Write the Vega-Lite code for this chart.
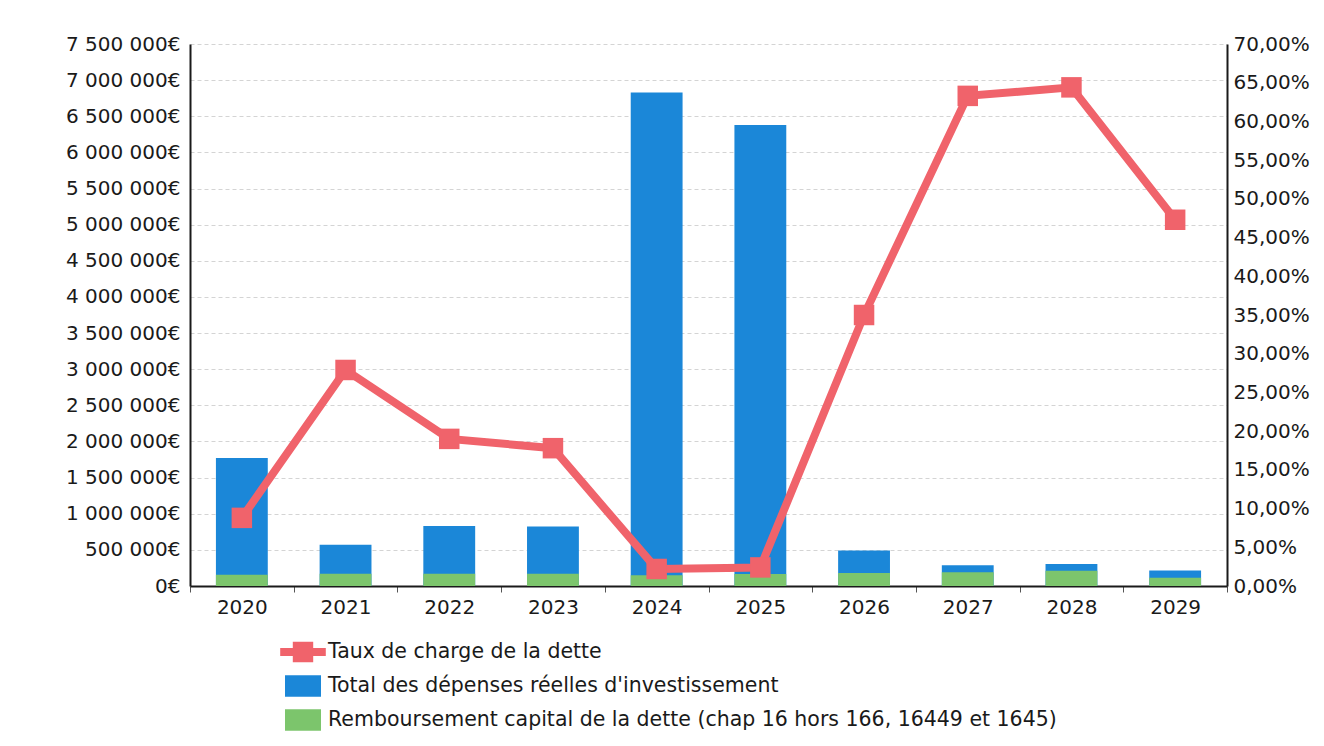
{
  "$schema": "https://vega.github.io/schema/vega-lite/v6.json",
  "autosize": "none",
  "width": 1037,
  "height": 542,
  "padding": {"left": 190, "top": 44, "right": 97, "bottom": 160},
  "background": "white",
  "config": {
    "locale": {"number": {"decimal": ",", "thousands": " ", "grouping": [3], "currency": ["", "€"]}},
    "font": "DejaVu Sans",
    "view": {"stroke": null}
  },
  "data": {
    "values": [
      {"annee": "2020", "total": 1770000, "remb": 155000, "taux": 0.088},
      {"annee": "2021", "total": 570000, "remb": 168000, "taux": 0.279},
      {"annee": "2022", "total": 830000, "remb": 168000, "taux": 0.190},
      {"annee": "2023", "total": 825000, "remb": 168000, "taux": 0.178},
      {"annee": "2024", "total": 6830000, "remb": 150000, "taux": 0.022},
      {"annee": "2025", "total": 6380000, "remb": 165000, "taux": 0.024},
      {"annee": "2026", "total": 490000, "remb": 180000, "taux": 0.350},
      {"annee": "2027", "total": 286000, "remb": 190000, "taux": 0.633},
      {"annee": "2028", "total": 305000, "remb": 210000, "taux": 0.644},
      {"annee": "2029", "total": 214000, "remb": 115000, "taux": 0.473}
    ]
  },
  "encoding": {
    "x": {
      "field": "annee",
      "type": "ordinal",
      "scale": {"paddingInner": 0, "paddingOuter": 0},
      "axis": {
        "title": null,
        "labelAngle": 0,
        "tickBand": "extent",
        "tickSize": 6,
        "tickColor": "#555555",
        "domainColor": "#1a1a1a",
        "domainWidth": 2,
        "labelFontSize": 20,
        "labelColor": "#1a1a1a",
        "labelPadding": 5,
        "grid": false
      }
    }
  },
  "layer": [
    {
      "layer": [
        {
          "mark": {"type": "bar", "width": {"band": 0.5}},
          "encoding": {
            "y": {
              "field": "total",
              "type": "quantitative",
              "scale": {"domain": [0, 7500000], "nice": false},
              "axis": {
                "title": null,
                "values": [0, 500000, 1000000, 1500000, 2000000, 2500000, 3000000, 3500000, 4000000, 4500000, 5000000, 5500000, 6000000, 6500000, 7000000, 7500000],
                "format": "$,.0f",
                "labelOverlap": false,
                "ticks": false,
                "labelPadding": 10,
                "labelFontSize": 20,
                "labelColor": "#1a1a1a",
                "domainColor": "#1a1a1a",
                "domainWidth": 2,
                "grid": true,
                "gridColor": "#d4d4d4",
                "gridDash": [4, 3]
              }
            },
            "color": {
              "datum": "Total des dépenses réelles d'investissement",
              "scale": {
                "domain": ["Taux de charge de la dette", "Total des dépenses réelles d'investissement", "Remboursement capital de la dette (chap 16 hors 166, 16449 et 1645)"],
                "range": ["#f0636b", "#1b87d8", "#7cc56c"]
              },
              "legend": {
                "orient": "none",
                "legendX": 101,
                "legendY": 596,
                "direction": "vertical",
                "title": null,
                "symbolSize": 576,
                "labelFontSize": 20.5,
                "labelColor": "#1a1a1a",
                "labelOffset": 13,
                "labelLimit": 0,
                "rowPadding": 11,
                "padding": 0,
                "encode": {
                  "symbols": {
                    "update": {
                      "shape": {"signal": "datum.value === 'Taux de charge de la dette' ? 'M-1.9,-0.33H1.9V0.33H-1.9Z M-0.85,-0.85H0.85V0.85H-0.85Z' : 'M-1.5,-0.9H1.5V0.9H-1.5Z'"},
                      "fill": {"signal": "scale('color', datum.value)"},
                      "fillOpacity": {"value": 1},
                      "opacity": {"value": 1},
                      "strokeWidth": {"value": 0}
                    }
                  }
                }
              }
            }
          }
        },
        {
          "mark": {"type": "bar", "width": {"band": 0.5}},
          "encoding": {
            "y": {
              "field": "remb",
              "type": "quantitative",
              "axis": {
                "title": null,
                "values": [0, 500000, 1000000, 1500000, 2000000, 2500000, 3000000, 3500000, 4000000, 4500000, 5000000, 5500000, 6000000, 6500000, 7000000, 7500000],
                "format": "$,.0f",
                "labelOverlap": false,
                "ticks": false,
                "labelPadding": 10,
                "labelFontSize": 20,
                "labelColor": "#1a1a1a",
                "domainColor": "#1a1a1a",
                "domainWidth": 2,
                "grid": true,
                "gridColor": "#d4d4d4",
                "gridDash": [4, 3]
              }
            },
            "color": {"datum": "Remboursement capital de la dette (chap 16 hors 166, 16449 et 1645)"}
          }
        }
      ]
    },
    {
      "mark": {
        "type": "line",
        "strokeWidth": 8,
        "point": {"shape": "square", "size": 420, "filled": true, "opacity": 1}
      },
      "encoding": {
        "y": {
          "field": "taux",
          "type": "quantitative",
          "scale": {"domain": [0, 0.7], "nice": false},
          "axis": {
            "orient": "right",
            "title": null,
            "values": [0, 0.05, 0.1, 0.15, 0.2, 0.25, 0.3, 0.35, 0.4, 0.45, 0.5, 0.55, 0.6, 0.65, 0.7],
            "format": ".2%",
            "labelOverlap": false,
            "ticks": false,
            "labelPadding": 6,
            "labelFontSize": 20,
            "labelColor": "#1a1a1a",
            "domainColor": "#1a1a1a",
            "domainWidth": 2,
            "grid": false
          }
        },
        "color": {"datum": "Taux de charge de la dette"}
      }
    }
  ],
  "resolve": {"scale": {"y": "independent"}}
}
